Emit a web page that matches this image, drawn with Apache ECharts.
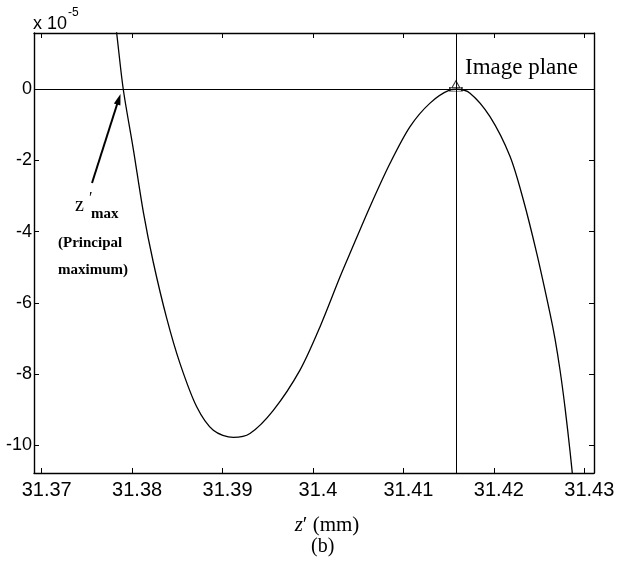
<!DOCTYPE html>
<html>
<head>
<meta charset="utf-8">
<script src="https://cdn.jsdelivr.net/npm/echarts@6/dist/echarts.min.js"></script>
<style>
  html, body { margin: 0; padding: 0; background: #fff; }
  #main { width: 628px; height: 569px; }
</style>
</head>
<body>
<div id="main"></div>
<script>
// z' positions (mm) and values in units of 1e-5
var zPos = [31.37788, 31.37829, 31.37902, 31.38013, 31.38124, 31.38234, 31.38382, 31.38529,
  31.38714, 31.38898, 31.39119, 31.39303, 31.39561, 31.39856, 31.40078, 31.40299,
  31.40409, 31.40630, 31.40852, 31.41073, 31.41294, 31.41515, 31.41589, 31.41736,
  31.41957, 31.42179, 31.42326, 31.42474, 31.42621, 31.42676, 31.42732, 31.42787,
  31.42842, 31.42886];
var zVal = [2.41, 1.58, 0, -1.68, -3.45, -4.86, -6.43, -7.70,
  -8.92, -9.58, -9.78, -9.67, -9.02, -7.89, -6.67, -5.27,
  -4.61, -3.30, -2.08, -1.05, -0.39, -0.02, 0, -0.11,
  -0.77, -1.89, -3.11, -4.61, -6.30, -7.01, -7.90, -8.95,
  -10.17, -11.26];
var xTicks = [31.37, 31.38, 31.39, 31.4, 31.41, 31.42, 31.43];
var yTicks = [0, -2, -4, -6, -8, -10];
var imagePlaneZ = 31.4158;

var sans = '"Liberation Sans", Arial, sans-serif';
var serif = '"Liberation Serif", "Times New Roman", serif';

var dom = document.getElementById('main');
var myChart = echarts.init(dom, null, { renderer: 'canvas' });

var curve = zPos.map(function (x, i) { return [x, zVal[i]]; });

var tickStyle = { show: true, inside: true, length: 5, lineStyle: { color: '#000', width: 1 } };
var lineStyle = { show: true, onZero: false, lineStyle: { color: '#000', width: 1.4 } };

var option = {
  animation: false,
  backgroundColor: '#fff',
  grid: { left: 34, right: 34, top: 33, bottom: 96, show: false },
  xAxis: [
    {
      type: 'value', min: 31.36915, max: 31.43107,
      axisLine: lineStyle,
      axisTick: Object.assign({ customValues: xTicks }, tickStyle),
      axisLabel: {
        customValues: xTicks, color: '#000', fontFamily: sans, fontSize: 20, margin: 7,
        padding: [0, 0, 0, 10],
        formatter: function (v) { return String(+v.toFixed(2)); }
      },
      splitLine: { show: false },
      name: '{i|z}\u2032 (mm)', nameLocation: 'middle', nameGap: 42,
      nameTextStyle: {
        fontFamily: serif, fontSize: 21, color: '#000', padding: [0, 0, 0, 26],
        rich: { i: { fontFamily: serif, fontSize: 21, fontStyle: 'italic', color: '#000' } }
      }
    },
    {
      type: 'value', position: 'top', min: 31.36915, max: 31.43107,
      axisLine: lineStyle,
      axisTick: Object.assign({ customValues: xTicks }, tickStyle),
      axisLabel: { show: false },
      splitLine: { show: false }
    }
  ],
  yAxis: [
    {
      type: 'value', min: -10.78, max: 1.58,
      axisLine: lineStyle,
      axisTick: Object.assign({ customValues: yTicks }, tickStyle),
      axisLabel: { customValues: yTicks, color: '#000', fontFamily: sans, fontSize: 18, margin: 2 },
      splitLine: { show: false }
    },
    {
      type: 'value', position: 'right', min: -10.78, max: 1.58,
      axisLine: lineStyle,
      axisTick: Object.assign({ customValues: yTicks }, tickStyle),
      axisLabel: { show: false },
      splitLine: { show: false }
    }
  ],
  series: [
    {
      type: 'line', data: curve, smooth: 0.3, symbol: 'none', clip: true,
      lineStyle: { color: '#000', width: 1.3 },
      markLine: {
        silent: true, symbol: 'none', precision: 5, label: { show: false },
        lineStyle: { color: '#000', width: 1, type: 'solid' },
        data: [{ yAxis: 0 }, { xAxis: imagePlaneZ }]
      }
    },
    {
      type: 'scatter', silent: true,
      data: [
        { value: [imagePlaneZ, 0], symbol: 'rect', symbolSize: [12, 4] },
        { value: [imagePlaneZ, 0], symbol: 'triangle', symbolSize: [8, 7], symbolOffset: [0, -5] }
      ],
      itemStyle: { color: '#fff', borderColor: '#000', borderWidth: 1 }
    }
  ],
  graphic: [
    { type: 'text', left: 33, top: 15,
      style: { text: 'x 10', font: '18px ' + sans, fill: '#000' } },
    { type: 'text', left: 68, top: 7,
      style: { text: '-5', font: '12px ' + sans, fill: '#000' } },
    { type: 'text', left: 465, top: 56,
      style: { text: 'Image plane', font: '23px ' + serif, fill: '#000' } },
    { type: 'text', left: 75, top: 196,
      style: { text: 'z', font: '20px ' + serif, fill: '#000' } },
    { type: 'text', left: 89, top: 191,
      style: { text: '\u2032', font: '16px ' + serif, fill: '#000' } },
    { type: 'text', left: 91, top: 207,
      style: { text: 'max', font: 'bold 15px ' + serif, fill: '#000' } },
    { type: 'text', left: 58, top: 236,
      style: { text: '(Principal', font: 'bold 15px ' + serif, fill: '#000' } },
    { type: 'text', left: 58, top: 263,
      style: { text: 'maximum)', font: 'bold 15px ' + serif, fill: '#000' } },
    { type: 'line', shape: { x1: 92, y1: 183, x2: 117.5, y2: 103 },
      style: { stroke: '#000', lineWidth: 2 } },
    { type: 'polygon', shape: { points: [[120.5, 94], [120.4, 105.6], [113.9, 103.4]] },
      style: { fill: '#000' } },
    { type: 'text', left: 311, top: 537,
      style: { text: '(b)', font: '20px ' + serif, fill: '#000' } }
  ]
};

myChart.setOption(option);
window.addEventListener('resize', myChart.resize);
</script>
</body>
</html>
